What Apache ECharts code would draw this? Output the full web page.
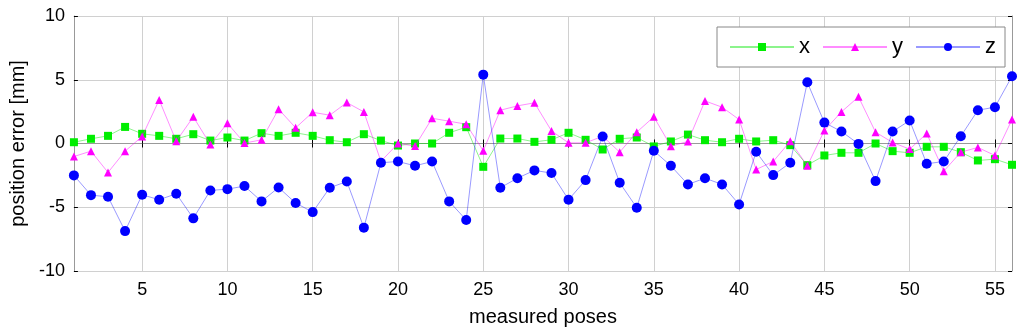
<!DOCTYPE html>
<html>
<head>
<meta charset="utf-8">
<script src="https://cdn.jsdelivr.net/npm/echarts@6/dist/echarts.min.js"></script>
<style>
html,body{margin:0;padding:0;background:#fff;}
#chart{width:1024px;height:335px;}
</style>
</head>
<body>
<div id="chart"></div>
<script>
var poses = [];
for (var i = 1; i <= 56; i++) poses.push(String(i));

var xErr = [0.1,0.37,0.6,1.3,0.76,0.6,0.37,0.73,0.23,0.47,0.23,0.81,0.6,0.84,0.6,0.26,0.1,0.73,0.23,-0.16,0,0,0.84,1.28,-1.83,0.39,0.39,0.13,0.29,0.84,0.29,-0.47,0.37,0.47,-0.23,0.16,0.7,0.26,0.1,0.37,0.16,0.26,-0.13,-1.7,-0.94,-0.73,-0.73,0,-0.6,-0.73,-0.26,-0.26,-0.68,-1.33,-1.23,-1.67];
var yErr = [-1.02,-0.6,-2.27,-0.6,0.55,3.42,0.18,2.09,-0.08,1.59,0.03,0.29,2.69,1.23,2.45,2.22,3.21,2.48,-1.4,0,-0.2,1.98,1.75,1.51,-0.57,2.61,2.95,3.19,0.99,0.05,0.05,0.57,-0.68,0.89,2.09,-0.21,0.16,3.34,2.85,1.88,-2.04,-1.41,0.18,-1.75,1.02,2.48,3.66,0.89,0.08,-0.44,0.78,-2.17,-0.68,-0.31,-0.94,1.88];
var zErr = [-2.5,-4.05,-4.18,-6.87,-4.02,-4.41,-3.94,-5.87,-3.68,-3.58,-3.34,-4.54,-3.45,-4.67,-5.38,-3.47,-2.98,-6.6,-1.51,-1.41,-1.75,-1.41,-4.54,-6.0,5.4,-3.47,-2.72,-2.11,-2.32,-4.41,-2.87,0.55,-3.08,-5.04,-0.57,-1.75,-3.21,-2.72,-3.21,-4.78,-0.65,-2.48,-1.51,4.8,1.64,0.94,-0.03,-2.95,0.94,1.8,-1.59,-1.41,0.57,2.61,2.85,5.27];
var yTicks = [-10, 10, 5];

var FONT = '"Liberation Sans", Arial, sans-serif';
var every5 = function (idx, val) { return Number(val) % 5 === 0; };

var chart = echarts.init(document.getElementById('chart'), null, {renderer: 'canvas'});
chart.setOption({
  animation: false,
  backgroundColor: '#fff',
  textStyle: {fontFamily: FONT},
  grid: {left: 73, right: 12, top: 16, bottom: 64, containLabel: false},
  legend: {
    left: 717, top: 27,
    padding: [9, 9, 9, 12],
    itemWidth: 64, itemHeight: 10, itemGap: 12,
    borderColor: '#888', borderWidth: 1, backgroundColor: '#fff',
    textStyle: {fontFamily: FONT, fontSize: 22, color: '#000', padding: [0, 0, 0, 0]},
    data: ['x', 'y', 'z']
  },
  xAxis: [{
    type: 'category', data: poses, boundaryGap: false,
    name: 'measured poses', nameLocation: 'middle', nameGap: 36,
    nameTextStyle: {fontFamily: FONT, fontSize: 20, color: '#000'},
    axisLine: {lineStyle: {color: '#999', width: 1}},
    axisTick: {show: true, inside: true, length: 4, interval: every5, lineStyle: {color: '#000'}},
    axisLabel: {interval: every5, fontSize: 18, color: '#000', margin: 10, fontFamily: FONT},
    splitLine: {show: true, interval: every5, lineStyle: {color: '#d0d0d0', width: 1}}
  }, {
    type: 'category', data: poses, boundaryGap: false, position: 'top',
    axisLine: {lineStyle: {color: '#999', width: 1}},
    axisTick: {show: true, inside: true, length: 4, interval: every5, lineStyle: {color: '#000'}},
    axisLabel: {show: false},
    splitLine: {show: false}
  }],
  yAxis: [{
    type: 'value', min: yTicks[0], max: yTicks[1], interval: yTicks[2],
    name: 'position error [mm]', nameLocation: 'middle', nameGap: 43,
    nameTextStyle: {fontFamily: FONT, fontSize: 20, color: '#000'},
    axisLine: {show: true, lineStyle: {color: '#999', width: 1}},
    axisTick: {show: true, inside: true, length: 4, lineStyle: {color: '#000'}},
    axisLabel: {fontSize: 18, color: '#000', margin: 9, fontFamily: FONT},
    splitLine: {show: true, lineStyle: {color: '#d0d0d0', width: 1}}
  }, {
    type: 'value', min: yTicks[0], max: yTicks[1], interval: yTicks[2], position: 'right',
    axisLine: {show: true, lineStyle: {color: '#999', width: 1}},
    axisTick: {show: true, inside: true, length: 4, lineStyle: {color: '#000'}},
    axisLabel: {show: false},
    splitLine: {show: false}
  }],
  series: [{
    name: 'x', type: 'line', data: xErr,
    symbol: 'rect', symbolSize: 8, showAllSymbol: true,
    itemStyle: {color: '#00ee00'},
    lineStyle: {color: 'rgba(0,230,0,0.45)', width: 1},
    z: 1
  }, {
    name: 'y', type: 'line', data: yErr,
    symbol: 'triangle', symbolSize: 8, showAllSymbol: true,
    itemStyle: {color: '#ff00ff'},
    lineStyle: {color: 'rgba(255,0,255,0.45)', width: 1},
    z: 2
  }, {
    name: 'z', type: 'line', data: zErr,
    symbol: 'circle', symbolSize: 10, showAllSymbol: true,
    itemStyle: {color: '#0000ff'},
    lineStyle: {color: 'rgba(0,0,255,0.4)', width: 1},
    z: 3
  }]
});
</script>
</body>
</html>
